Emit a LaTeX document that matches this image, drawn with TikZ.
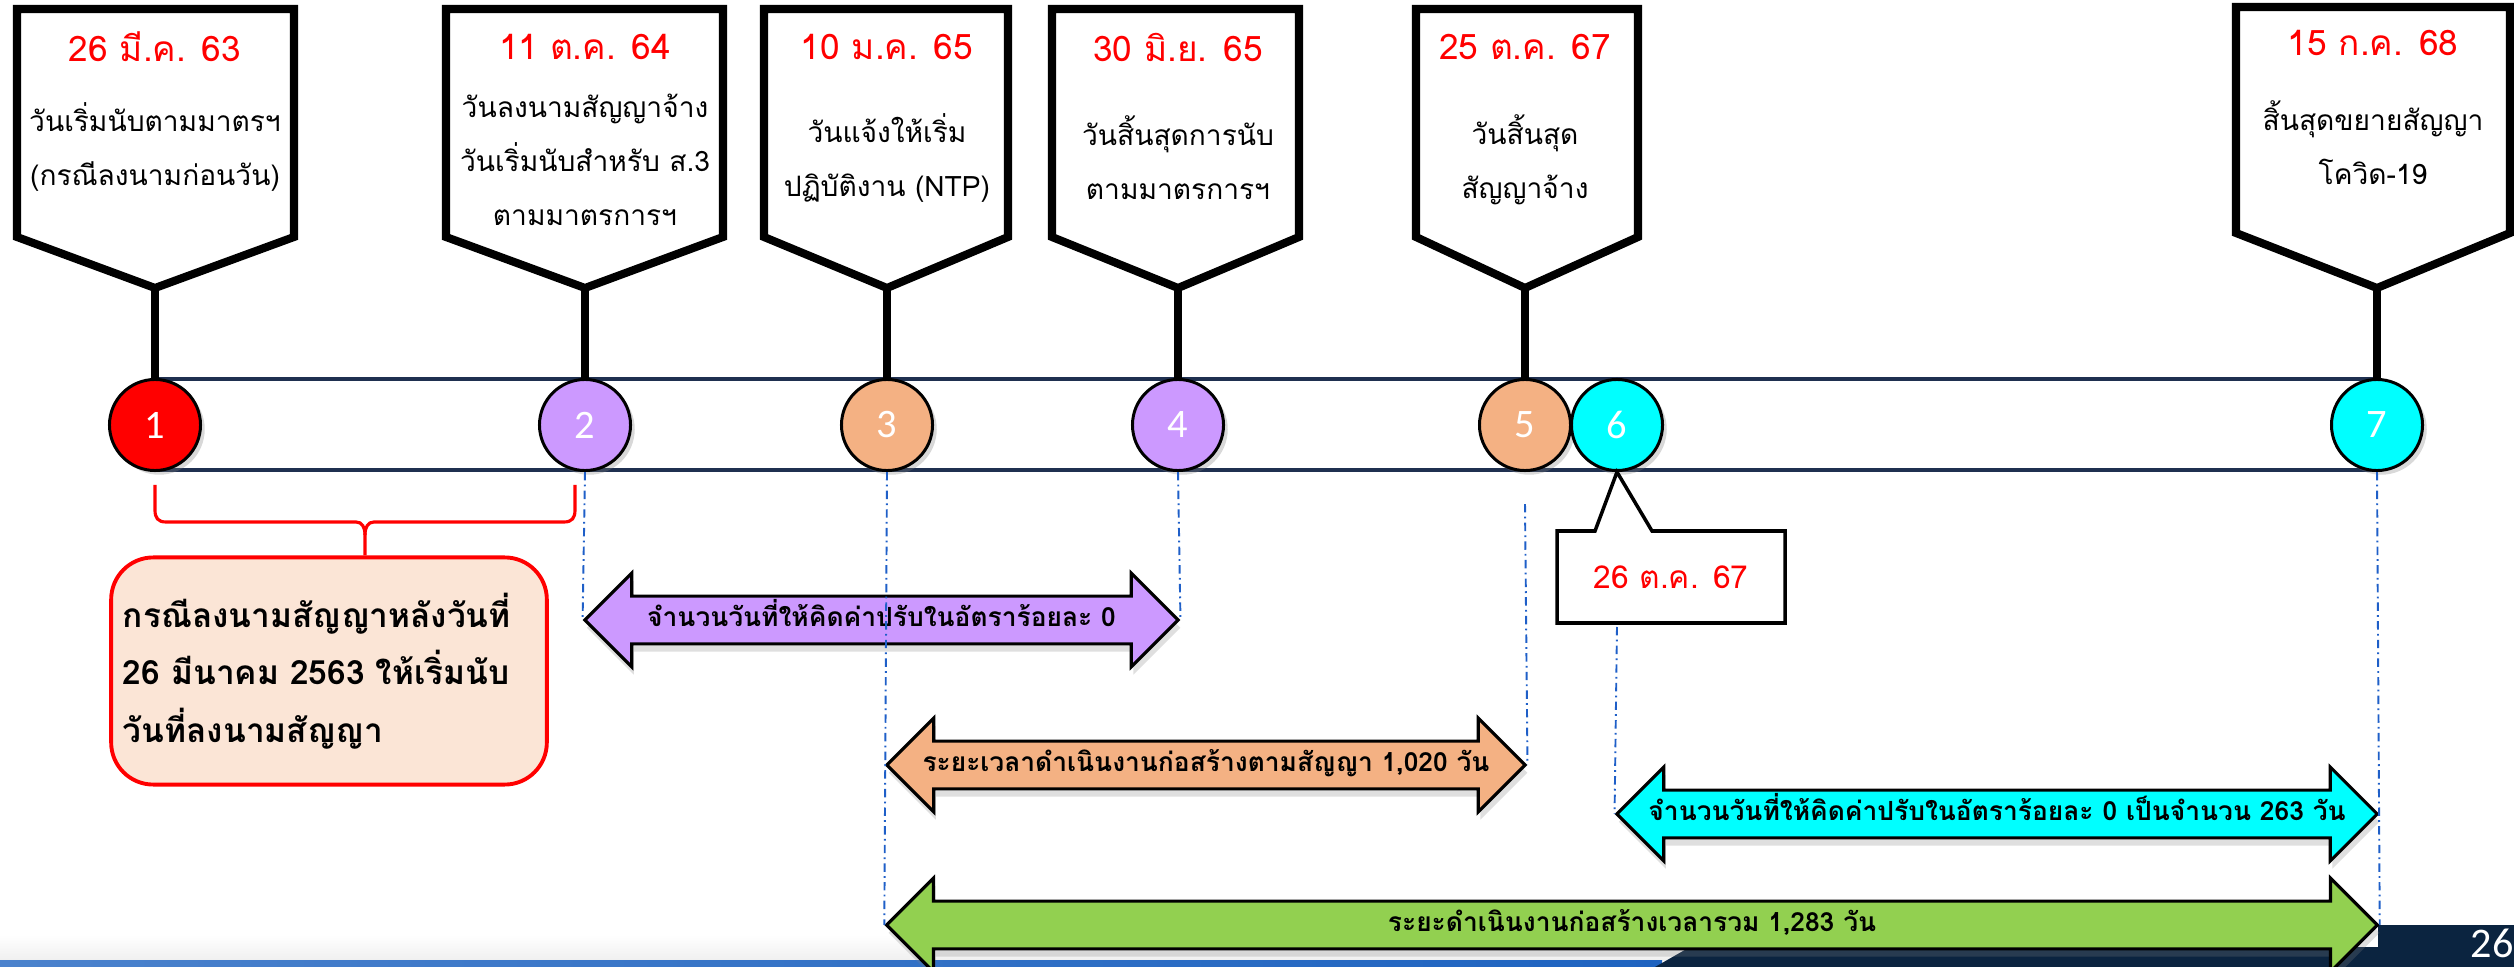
\documentclass[tikz,border=0pt]{standalone}
\usepackage{fontspec}
\usepackage{tikz}
\usetikzlibrary{shapes.arrows, shadows, positioning}
\newfontfamily\thaifont[Script=Thai]{Loma}
\newfontfamily\numfont{Carlito}
\definecolor{tlNavy}{HTML}{1F3050}
\definecolor{tlRed}{HTML}{FF0000}
\definecolor{tlPurple}{HTML}{CC99FF}
\definecolor{tlOrange}{HTML}{F4B183}
\definecolor{tlCyan}{HTML}{00FFFF}
\definecolor{tlGreen}{HTML}{92D050}
\definecolor{tlPink}{HTML}{FBE5D6}
\definecolor{tlGuide}{HTML}{1F5FC8}
\definecolor{tlFoot}{HTML}{0B2440}
\definecolor{tlBand}{HTML}{1E63C0}
\tikzset{
  tlbox/.style={line width=2.3pt, fill=white},
  tlstem/.style={line width=2.3pt},
  tldate/.style={text=tlRed, font=\thaifont\fontsize{10}{12}\selectfont},
  tltext/.style={align=center, font=\thaifont\fontsize{8}{15.3}\selectfont},
  tlcirc/.style={draw, circle, line width=0.85pt, minimum size=0.91cm, inner sep=0pt,
                 text=white, font=\numfont\fontsize{11.5}{13}\selectfont,
                 drop shadow={shadow xshift=1.2pt, shadow yshift=-1.2pt, opacity=0.3}},
  tlguide/.style={tlGuide, line width=0.55pt, dash pattern=on 2.4pt off 1.2pt on 0.5pt off 1.2pt},
  tlarrow/.style={double arrow, draw, line width=0.9pt, double arrow head extend=0.23cm,
                  minimum width=0.91cm, text height=5.5pt, text depth=2pt, inner ysep=2.6pt,
                  inner xsep=0pt, font=\thaifont\bfseries\fontsize{7.5}{9}\selectfont,
                  drop shadow={shadow xshift=0.6pt, shadow yshift=-2.2pt, opacity=0.25}},
}

\begin{document}
\begin{tikzpicture}[x=0.01cm, y=-0.01cm]
    \useasboundingbox (0,0) rectangle (2514,967);
    % footer of the slide
    \shade[top color=white, bottom color=black!6] (0,935) rectangle (1690,960);
    \shade[left color=tlBand!80!white, right color=tlBand] (0,960) rectangle (1662,967);
    \fill[tlFoot] (1655,967) -- (1690,947) -- (2378,947) -- (2378,925) -- (2514,925) -- (2514,967) -- cycle;
    \node[text=white, anchor=west, inner sep=0pt, font=\numfont\fontsize{12}{14}\selectfont] (pg) at (2470,943) {26};
    % timeline bar
    \draw[tlNavy, line width=1.4pt, fill=white] (155,379) rectangle (2377,470);
    % callout boxes
    \draw[tlbox] (17,9) -- (294,9) -- (294,237) -- (155,288) -- (17,237) -- cycle;
    \draw[tlbox] (446,9) -- (723,9) -- (723,237) -- (585,288) -- (446,237) -- cycle;
    \draw[tlbox] (764,9) -- (1008,9) -- (1008,237) -- (887,288) -- (764,237) -- cycle;
    \draw[tlbox] (1052,9) -- (1299,9) -- (1299,237) -- (1178,288) -- (1052,237) -- cycle;
    \draw[tlbox] (1416,9) -- (1638,9) -- (1638,237) -- (1525,288) -- (1416,237) -- cycle;
    \draw[tlbox] (2236,7) -- (2510,7) -- (2510,233) -- (2377,288) -- (2236,233) -- cycle;
    \coordinate (t1) at (155,288);
    \coordinate (t2) at (585,288);
    \coordinate (t3) at (887,288);
    \coordinate (t4) at (1178,288);
    \coordinate (t5) at (1525,288);
    \coordinate (t7) at (2377,288);
    % dates
    \node[tldate] (d1) at (155,47) {26 มี.ค. 63};
    \node[tldate] (d2) at (585,47) {11 ต.ค. 64};
    \node[tldate] (d3) at (887,47) {10 ม.ค. 65};
    \node[tldate] (d4) at (1178,47) {30 มิ.ย. 65};
    \node[tldate] (d5) at (1525,47) {25 ต.ค. 67};
    \node[tldate] (d7) at (2373,43) {15 ก.ค. 68};
    % texts
    \node[tltext] (x1) at (155,147) {วันเริ่มนับตามมาตรฯ\\(กรณีลงนามก่อนวัน)};
    \node[tltext] (x2) at (585,160) {วันลงนามสัญญาจ้าง\\วันเริ่มนับสำหรับ ส.3\\ตามมาตรการฯ};
    \node[tltext] (x3) at (887,158) {วันแจ้งให้เริ่ม\\ปฏิบัติงาน (NTP)};
    \node[tltext] (x4) at (1178,158) {วันสิ้นสุดการนับ\\ตามมาตรการฯ};
    \node[tltext] (x5) at (1525,160) {วันสิ้นสุด\\สัญญาจ้าง};
    \node[tltext] (x7) at (2373,143) {สิ้นสุดขยายสัญญา\\โควิด-19};
    % circles
    \node[tlcirc, fill=tlRed] (c1) at (155,425) {1};
    \node[tlcirc, fill=tlPurple] (c2) at (585,425) {2};
    \node[tlcirc, fill=tlOrange] (c3) at (887,425) {3};
    \node[tlcirc, fill=tlPurple] (c4) at (1178,425) {4};
    \node[tlcirc, fill=tlOrange] (c5) at (1525,425) {5};
    \node[tlcirc, fill=tlCyan] (c6) at (1617,425) {6};
    \node[tlcirc, fill=tlCyan] (c7) at (2377,425) {7};
    \draw[tlstem] (t1) -- (c1.north);
    \draw[tlstem] (t2) -- (c2.north);
    \draw[tlstem] (t3) -- (c3.north);
    \draw[tlstem] (t4) -- (c4.north);
    \draw[tlstem] (t5) -- (c5.north);
    \draw[tlstem] (t7) -- (c7.north);
    % callout under 6
    \draw[line width=1pt, fill=white] (1557,531) -- (1595,531) -- (c6.south) -- (1652,531)
        -- (1785,531) -- (1785,623) -- (1557,623) -- cycle;
    \node[tldate, font=\thaifont\fontsize{9}{11}\selectfont] (d6) at (1671,577) {26 ต.ค. 67};
    \coordinate (g6) at (1617,627);
    % brace and note
    \coordinate (b1) at (155,485);
    \coordinate (b2) at (575,485);
    \node[draw=tlRed, line width=1.1pt, fill=tlPink, rounded corners=0.42cm,
          minimum width=4.34cm, minimum height=2.27cm, text width=4.12cm, align=left,
          font=\thaifont\bfseries\fontsize{9.5}{16.3}\selectfont] (note) at (329,671)
        {กรณีลงนามสัญญาหลังวันที่\\26 มีนาคม 2563 ให้เริ่มนับ\\วันที่ลงนามสัญญา};
    \draw[tlRed, line width=0.9pt] (b1) -- (155,510) .. controls (155,518) and (158,522) .. (166,522)
        -- (356,522) .. controls (362,522) and (365,527) .. (365,535) -- (note.north -| 365,557);
    \draw[tlRed, line width=0.9pt] (b2) -- (575,510) .. controls (575,518) and (572,522) .. (564,522)
        -- (374,522) .. controls (368,522) and (365,527) .. (365,535);
    % arrows
    \node[tlarrow, fill=tlPurple, minimum height=5.93cm] (ap) at (881.5,620)
        {จำนวนวันที่ให้คิดค่าปรับในอัตราร้อยละ 0};
    \node[tlarrow, fill=tlOrange, minimum height=6.38cm] (ao) at (1206,765)
        {ระยะเวลาดำเนินงานก่อสร้างตามสัญญา 1,020 วัน};
    \node[tlarrow, fill=tlCyan, minimum height=7.60cm] (ac) at (1997,814)
        {จำนวนวันที่ให้คิดค่าปรับในอัตราร้อยละ 0 เป็นจำนวน 263 วัน};
    \node[tlarrow, fill=tlGreen, minimum height=14.90cm] (ag) at (1632,925)
        {ระยะดำเนินงานก่อสร้างเวลารวม 1,283 วัน};
    % guides
    \draw[tlguide] (c2.south) -- (ap.west);
    \draw[tlguide] (c4.south) -- (ap.east);
    \draw[tlguide] (c3.south) -- (ag.west);
    \draw[tlguide] ([yshift=-0.32cm]c5.south) -- (ao.east);
    \draw[tlguide] (g6) -- (ac.west);
    \draw[tlguide] (c7.south) -- (ag.east);
\end{tikzpicture}
\end{document}
